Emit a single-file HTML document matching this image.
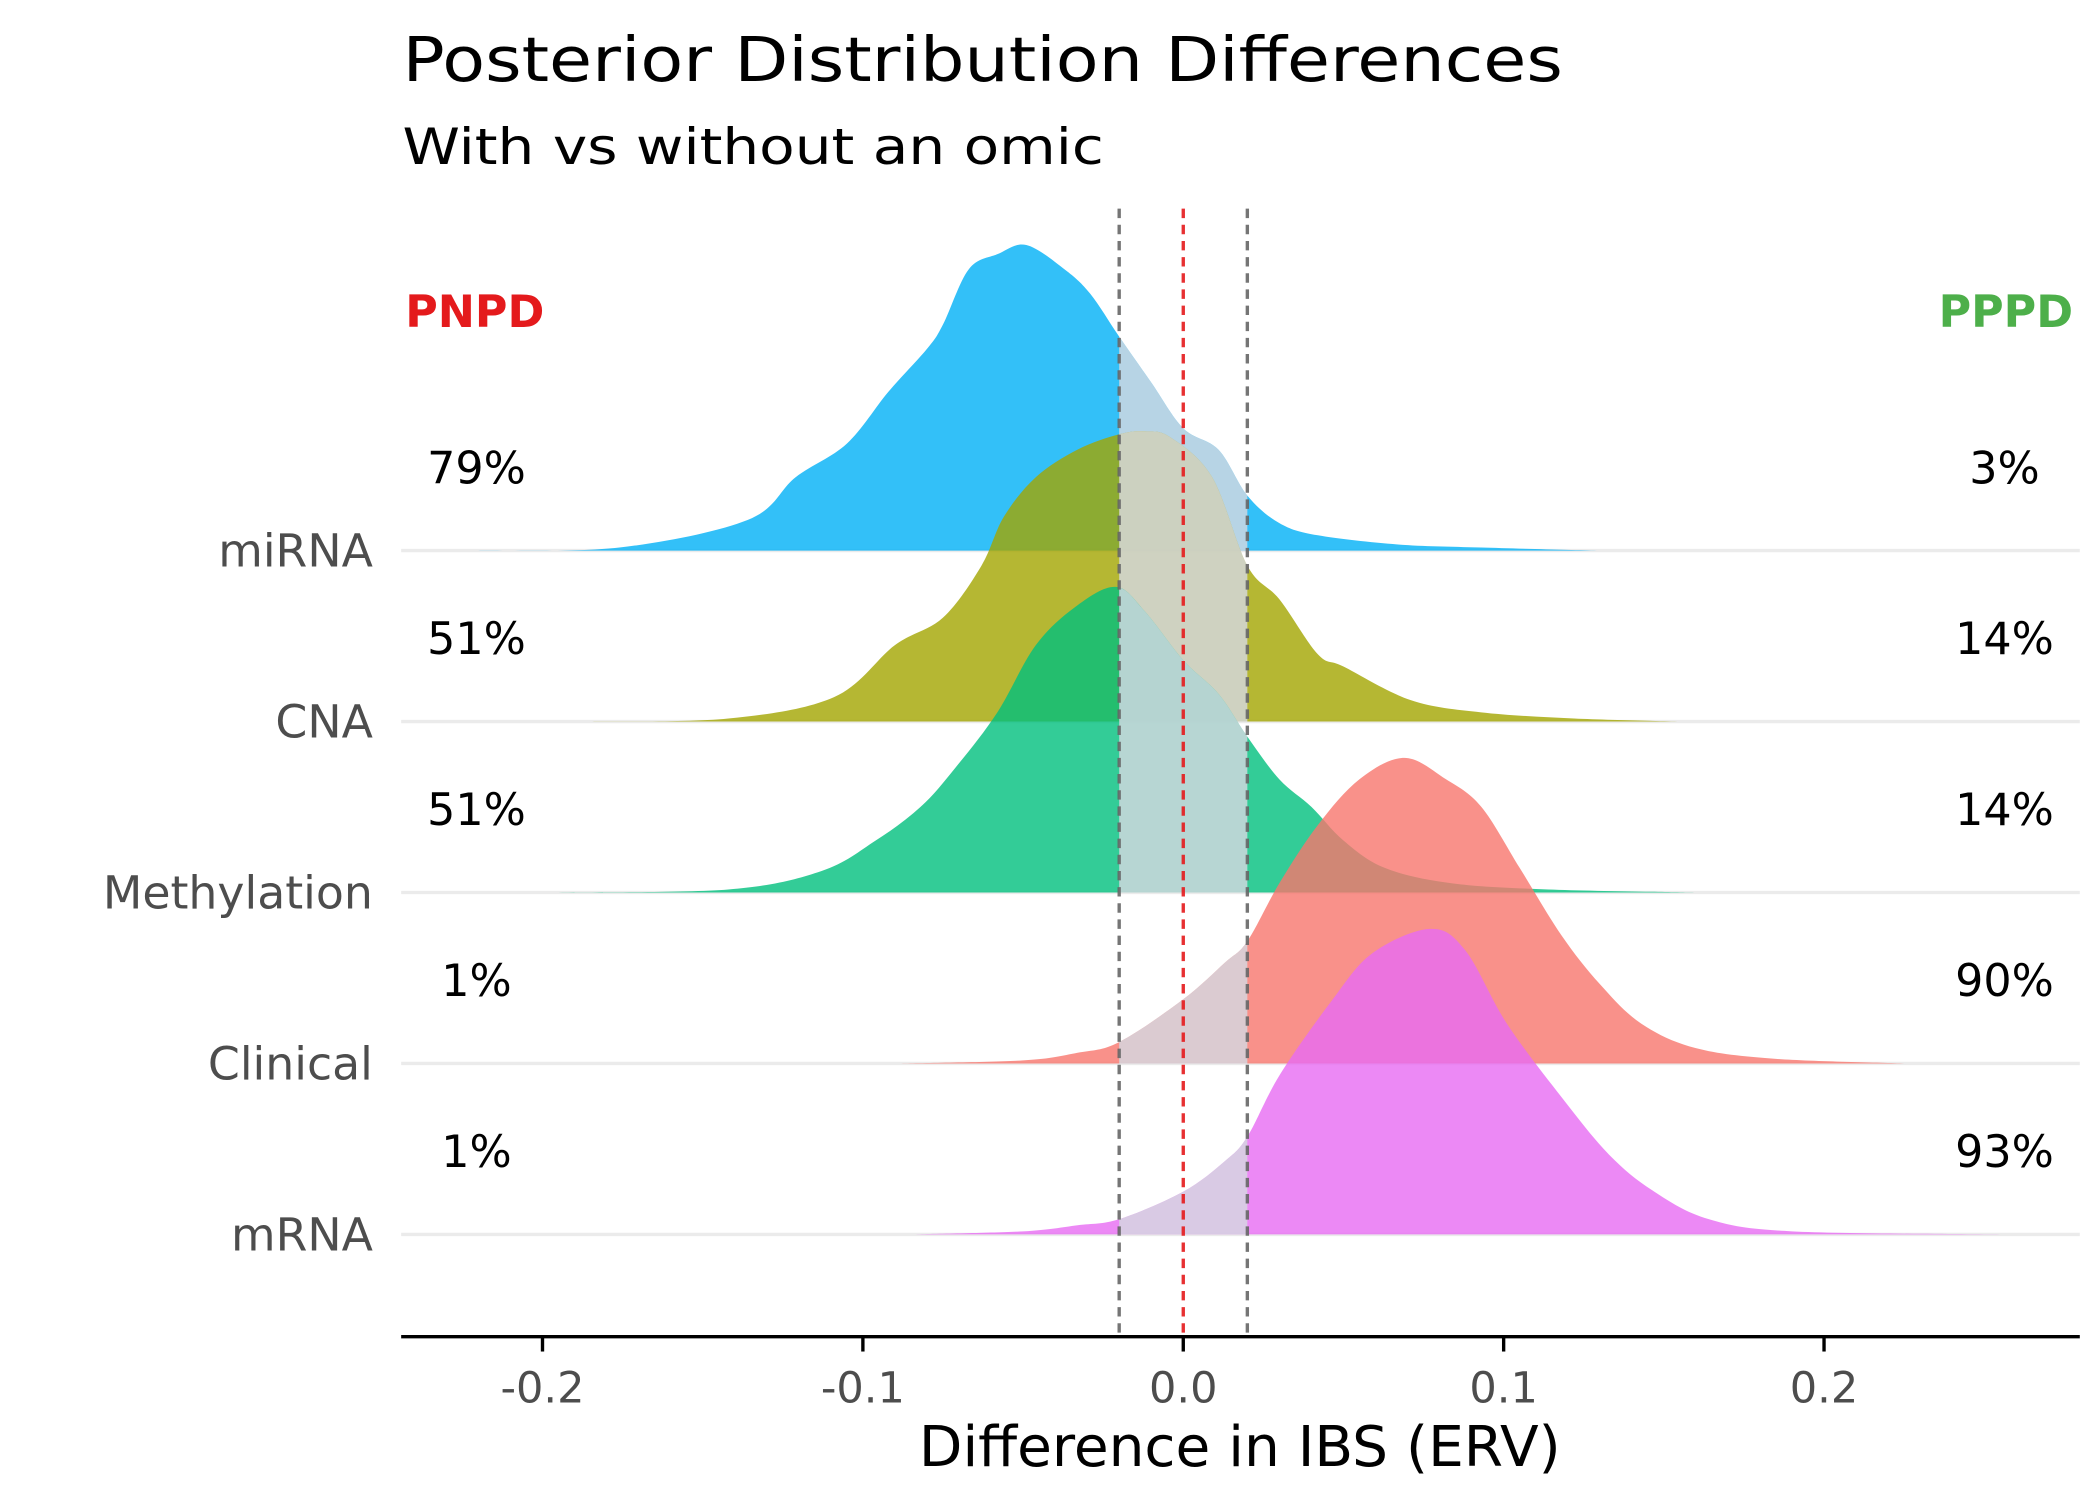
<!DOCTYPE html>
<html><head><meta charset="utf-8"><style>
html,body{margin:0;padding:0;background:#fff}
svg{display:block;font-family:"DejaVu Sans","Liberation Sans",sans-serif}
</style></head><body>
<svg id="chart" width="2100" height="1500" viewBox="0 0 1560 1114.29" xmlns="http://www.w3.org/2000/svg">
<text x="299" y="60" font-size="46" fill="#000" textLength="862" lengthAdjust="spacingAndGlyphs">Posterior Distribution Differences</text>
<text x="299" y="122" font-size="37" fill="#000" textLength="521" lengthAdjust="spacingAndGlyphs">With vs without an omic</text>
<g id="grid"></g><g id="ridges"></g><g id="refs"></g><g id="labels"></g>
<line x1="298" x2="1545" y1="993" y2="993" stroke="#000" stroke-width="2.5"/>
<g id="xticks"></g>
<text x="921" y="1089" font-size="42" text-anchor="middle" fill="#000">Difference in IBS (ERV)</text>
<text x="301" y="243" font-size="33" font-weight="bold" fill="#e41a1c">PNPD</text>
<text x="1540" y="243" font-size="33" font-weight="bold" fill="#4daf4a" text-anchor="end">PPPD</text>
</svg>
<script>
const categories = ["miRNA","CNA","Methylation","Clinical","mRNA"];
const colors = ["#00b0f6","#a3a500","#00bf7d","#f8766d","#e76bf3"];
const pnpd = ["79%","51%","51%","1%","1%"];
const pppd = ["3%","14%","14%","90%","93%"];
const xTicks = [-0.2,-0.1,0.0,0.1,0.2];
const xTickLabels = ["-0.2","-0.1","0.0","0.1","0.2"];
const rope = [-0.02,0.02];
const miRNA_x = [-0.22,-0.176,-0.136,-0.121,-0.105,-0.092,-0.08,-0.075,-0.067,-0.058,-0.049,-0.037,-0.029,-0.02,-0.01,0,0.011,0.02,0.03,0.042,0.067,0.093,0.129];
const miRNA_y = [0,0.01,0.1,0.24,0.35,0.52,0.66,0.74,0.92,0.97,1,0.92,0.84,0.70,0.55,0.40,0.33,0.18,0.09,0.05,0.02,0.01,0];
const CNA_x = [-0.185,-0.142,-0.109,-0.09,-0.075,-0.063,-0.056,-0.046,-0.033,-0.02,-0.012,-0.004,0.009,0.02,0.03,0.042,0.05,0.071,0.093,0.122,0.155];
const CNA_y = [0,0.01,0.08,0.25,0.34,0.51,0.67,0.80,0.89,0.94,0.95,0.93,0.80,0.51,0.40,0.22,0.18,0.07,0.03,0.01,0];
const Meth_x = [-0.197,-0.142,-0.113,-0.096,-0.082,-0.071,-0.058,-0.046,-0.033,-0.021,-0.012,0,0.011,0.02,0.03,0.04,0.05,0.063,0.084,0.114,0.16];
const Meth_y = [0,0.01,0.07,0.17,0.28,0.41,0.59,0.81,0.94,1,0.92,0.76,0.65,0.51,0.37,0.28,0.17,0.08,0.03,0.01,0];
const Clin_x = [-0.088,-0.05,-0.033,-0.02,0,0.013,0.02,0.03,0.042,0.055,0.069,0.082,0.093,0.105,0.118,0.13,0.143,0.16,0.185,0.225];
const Clin_y = [0,0.01,0.035,0.07,0.21,0.33,0.40,0.59,0.78,0.93,1,0.93,0.84,0.64,0.42,0.26,0.13,0.05,0.015,0];
const mRNA_x = [-0.084,-0.05,-0.033,-0.02,0,0.013,0.02,0.03,0.046,0.059,0.077,0.088,0.101,0.118,0.133,0.147,0.164,0.19,0.255];
const mRNA_y = [0,0.01,0.03,0.05,0.14,0.24,0.32,0.52,0.76,0.92,1,0.93,0.69,0.45,0.26,0.14,0.05,0.01,0];
const seriesX = [miRNA_x,CNA_x,Meth_x,Clin_x,mRNA_x];
const seriesY = [miRNA_y,CNA_y,Meth_y,Clin_y,mRNA_y];

const NS="http://www.w3.org/2000/svg";
const xs = v => 879 + v*2380;
const rowBase = i => 409 + i*127;
const H = 227;
function mk(t,a,p){const e=document.createElementNS(NS,t);for(const k in a)e.setAttribute(k,a[k]);p.appendChild(e);return e;}
function path(xa,ya,base){
  const p=xa.map((x,i)=>[xs(x),base-ya[i]*H]);
  let d=`M${p[0][0]},${base}L${p[0][0]},${p[0][1]}`;
  for(let i=0;i<p.length-1;i++){
    const p0=p[Math.max(0,i-1)],p1=p[i],p2=p[i+1],p3=p[Math.min(p.length-1,i+2)];
    const c1=[p1[0]+(p2[0]-p0[0])/6,p1[1]+(p2[1]-p0[1])/6];
    const c2=[p2[0]-(p3[0]-p1[0])/6,p2[1]-(p3[1]-p1[1])/6];
    d+=`C${c1[0]},${c1[1]} ${c2[0]},${c2[1]} ${p2[0]},${p2[1]}`;
  }
  d+=`L${p[p.length-1][0]},${base}Z`;return d;
}
const svg=document.getElementById('chart');
const defs=mk('defs',{},svg);
const cp=mk('clipPath',{id:'ropeclip'},defs);
mk('rect',{x:xs(rope[0]),y:0,width:xs(rope[1])-xs(rope[0]),height:1114},cp);
const grid=document.getElementById('grid'),ridges=document.getElementById('ridges'),labels=document.getElementById('labels');
categories.forEach((c,i)=>{
  const b=rowBase(i);
  const gl=mk('line',{x1:298,x2:1545,y1:b,y2:b,stroke:'#ebebeb','stroke-width':2.5},grid);
  
  
  const d=path(seriesX[i],seriesY[i],b);
  const r=mk('path',{d:d,fill:colors[i],'fill-opacity':0.8},ridges);
  
  
  const rr=mk('path',{d:d,fill:'#d4d8e0','fill-opacity':0.82,'clip-path':'url(#ropeclip)'},ridges);
  
  
  const t=mk('text',{x:277,y:b+12,'font-size':34,fill:'#4d4d4d','text-anchor':'end'},labels);t.textContent=c;
  
  
  const l=mk('text',{x:354,y:b-50,'font-size':33,fill:'#000','text-anchor':'middle'},labels);l.textContent=pnpd[i];
  
  
  const rt=mk('text',{x:1489,y:b-50,'font-size':33,fill:'#000','text-anchor':'middle'},labels);rt.textContent=pppd[i];
  
  
});
const refs=document.getElementById('refs');
[[rope[0],'#666'],[0,'#e41a1c'],[rope[1],'#666']].forEach(([v,c],k)=>{
  const l=mk('line',{x1:xs(v),x2:xs(v),y1:155,y2:993,stroke:c,'stroke-width':2.5,'stroke-dasharray':'7,5','stroke-opacity':0.9},refs);
  
  
});
const xt=document.getElementById('xticks');
xTicks.forEach((v,i)=>{
  const tk=mk('line',{x1:xs(v),x2:xs(v),y1:993,y2:1004,stroke:'#000','stroke-width':2.5},xt);
  
  
  const t=mk('text',{x:xs(v),y:1042,'font-size':32,fill:'#4d4d4d','text-anchor':'middle'},xt);t.textContent=xTickLabels[i];
  
  
});
</script>
</body></html>
